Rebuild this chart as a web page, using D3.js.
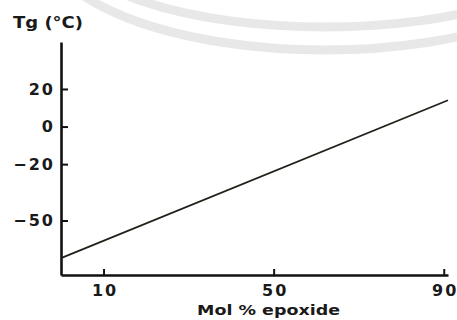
<!DOCTYPE html>
<html>
<head>
<meta charset="utf-8">
<script src="https://cdn.jsdelivr.net/npm/d3@7"></script>
<style>
  body { margin: 0; background: #fff; }
  svg { display: block; }
  .axis path, .axis line { stroke: #111; }
  .axis text { font-family: "DejaVu Sans", sans-serif; font-weight: bold; font-size: 16px; fill: #1a1a1a; letter-spacing: 2px; }
  .label { font-family: "DejaVu Sans", sans-serif; font-weight: bold; fill: #1a1a1a; }
</style>
</head>
<body>
<svg></svg>
<script>
// data
var molEpoxide = [0, 91];
var tgValues = [-70, 14];
var xTicks = [10, 50, 90];
var yTicks = [20, 0, -20, -50];
var yTickLabels = ["20", "0", "\u221220", "\u221250"];

var width = 457, height = 320;

var svg = d3.select("svg")
  .attr("width", width)
  .attr("height", height);

// faint watermark bands in the background
var marks = svg.append("g").attr("class", "watermark");
marks.append("ellipse")
  .attr("cx", 325).attr("cy", -60)
  .attr("rx", 257).attr("ry", 87)
  .attr("fill", "none").attr("stroke", "#e8e8e8").attr("stroke-width", 9);
marks.append("ellipse")
  .attr("cx", 325).attr("cy", -60)
  .attr("rx", 280).attr("ry", 110)
  .attr("fill", "none").attr("stroke", "#e8e8e8").attr("stroke-width", 9);

var xscale = d3.scaleLinear()
  .domain([0, 91])
  .range([61, 448]);

var yscale = d3.scaleLinear()
  .domain([-79, 45])
  .range([275, 42]);

var xaxis = d3.axisBottom(xscale)
  .tickValues(xTicks)
  .tickSizeInner(-6)
  .tickSizeOuter(0)
  .tickPadding(10);

var yaxis = d3.axisLeft(yscale)
  .tickValues(yTicks)
  .tickFormat(function(d, i) { return yTickLabels[i]; })
  .tickSizeInner(-7)
  .tickSizeOuter(0)
  .tickPadding(6);

//Create X axis
var gx = svg.append("g")
  .attr("class", "axis")
  .attr("transform", "translate(0," + yscale(-79) + ")")
  .call(xaxis);
gx.select(".domain").attr("stroke-width", 2.6);
gx.selectAll(".tick line").attr("stroke-width", 2);
gx.selectAll(".tick text").attr("dx", "1px");

//Create Y axis
var gy = svg.append("g")
  .attr("class", "axis")
  .attr("transform", "translate(" + xscale(0) + ",0)")
  .call(yaxis);
gy.select(".domain").attr("stroke-width", 2.6);
gy.selectAll(".tick line").attr("stroke-width", 2);

//Tg line
var pts = molEpoxide.map(function(d, i) { return [d, tgValues[i]]; });
svg.append("path")
  .datum(pts)
  .attr("fill", "none")
  .attr("stroke", "#222018")
  .attr("stroke-width", 1.8)
  .attr("d", d3.line()
    .x(function(d) { return xscale(d[0]); })
    .y(function(d) { return yscale(d[1]); }));

//Labels
svg.append("text")
  .attr("class", "label")
  .attr("x", 13)
  .attr("y", 28)
  .style("font-size", "15px")
  .attr("textLength", 70)
  .attr("lengthAdjust", "spacingAndGlyphs")
  .text("Tg (\u00b0C)");

svg.append("text")
  .attr("class", "label")
  .attr("x", 197)
  .attr("y", 315)
  .style("font-size", "14px")
  .attr("textLength", 143)
  .attr("lengthAdjust", "spacingAndGlyphs")
  .text("Mol % epoxide");
</script>
</body>
</html>
